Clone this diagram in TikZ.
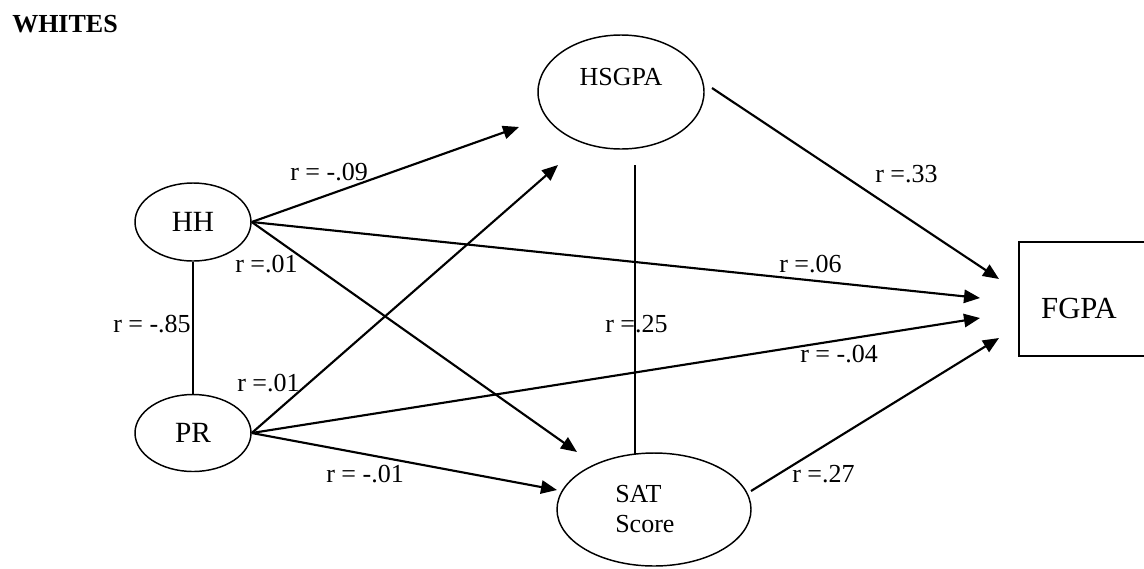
\documentclass[tikz,border=0pt]{standalone}
\usepackage{fontspec}
\setmainfont{Liberation Serif}
\usetikzlibrary{arrows.meta,shapes.geometric}
\begin{document}
\begin{tikzpicture}[x=0.75pt,y=-0.75pt,
  ell/.style={draw, ellipse, line width=1.1pt, inner sep=0pt},
  box/.style={draw, rectangle, line width=1.1pt, inner sep=0pt},
  conn/.style={line width=1.6pt, -{Triangle[length=12pt,width=10pt]}},
  corr/.style={line width=1.1pt},
  lab/.style={font=\fontsize{19.5}{23}\selectfont, inner sep=0pt, anchor=base west},
  txt/.style={font=\fontsize{19.5}{23}\selectfont, inner sep=0pt, anchor=base},
  bigtxt/.style={font=\fontsize{22}{26}\selectfont}]
\useasboundingbox (0,0) rectangle (1144,568);
\clip (0,0) rectangle (1144,568);

% title
\node[font=\bfseries\fontsize{19.5}{23}\selectfont, inner sep=0pt, anchor=base west] (title) at (12,32) {WHITES};

% nodes
\node[ell, bigtxt, minimum width=87pt, minimum height=58.5pt] (HH) at (193,222) {HH};
\node[ell, bigtxt, minimum width=87pt, minimum height=57.75pt] (PR) at (193,433) {PR};
\node[ell, minimum width=124.5pt, minimum height=85.5pt] (HSGPA) at (621,92) {};
\node[txt] (HSGPAtext) at (621,85) {HSGPA};
\node[ell, minimum width=145.5pt, minimum height=84.75pt] (SAT) at (654,509.5) {};
\node[txt, anchor=base west] (SATtext1) at (615,502) {SAT};
\node[txt, anchor=base west] (SATtext2) at (615,532) {Score};
\node[box, minimum width=99pt, minimum height=85.5pt] (FGPA) at (1085,299) {};
\node[font=\fontsize{23}{27}\selectfont, inner sep=0pt, anchor=base] (FGPAtext) at (1079,318) {FGPA};

% connector end points
\coordinate (HSGPAin1) at (519,127);
\coordinate (HSGPAin2) at (558,165);
\coordinate (SATin1) at (577,452);
\coordinate (SATin2) at (557,490);
\coordinate (FGPAin1) at (999,279);
\coordinate (FGPAin2) at (980,298);
\coordinate (FGPAin3) at (980,318);
\coordinate (FGPAin4) at (999,338);
\coordinate (HSGPAout) at (712,88);
\coordinate (SATout) at (751,491);
\coordinate (corrtop) at (635,165);
\coordinate (corrbot) at (635,453.5);

% connectors
\draw[conn] (HH.east) -- (HSGPAin1);
\draw[conn] (HH.east) -- (FGPAin2);
\draw[conn] (HH.east) -- (SATin1);
\draw[conn] (PR.east) -- (HSGPAin2);
\draw[conn] (PR.east) -- (FGPAin3);
\draw[conn] (PR.east) -- (SATin2);
\draw[conn] (HSGPAout) -- (FGPAin1);
\draw[conn] (SATout) -- (FGPAin4);
\draw[corr] (HH.south) -- (PR.north);
\draw[corr] (corrtop) -- (corrbot);

% labels
\node[lab] (l1) at (290,180) {r = -.09};
\node[lab] (l2) at (235,272) {r =.01};
\node[lab] (l3) at (113,332) {r = -.85};
\node[lab] (l4) at (237,391) {r =.01};
\node[lab] (l5) at (326,482) {r = -.01};
\node[lab] (l6) at (605,332) {r =.25};
\node[lab] (l7) at (800,362) {r = -.04};
\node[lab] (l8) at (792,482) {r =.27};
\node[lab] (l9) at (875,182) {r =.33};
\node[lab] (l10) at (779,272) {r =.06};
\end{tikzpicture}
\end{document}
